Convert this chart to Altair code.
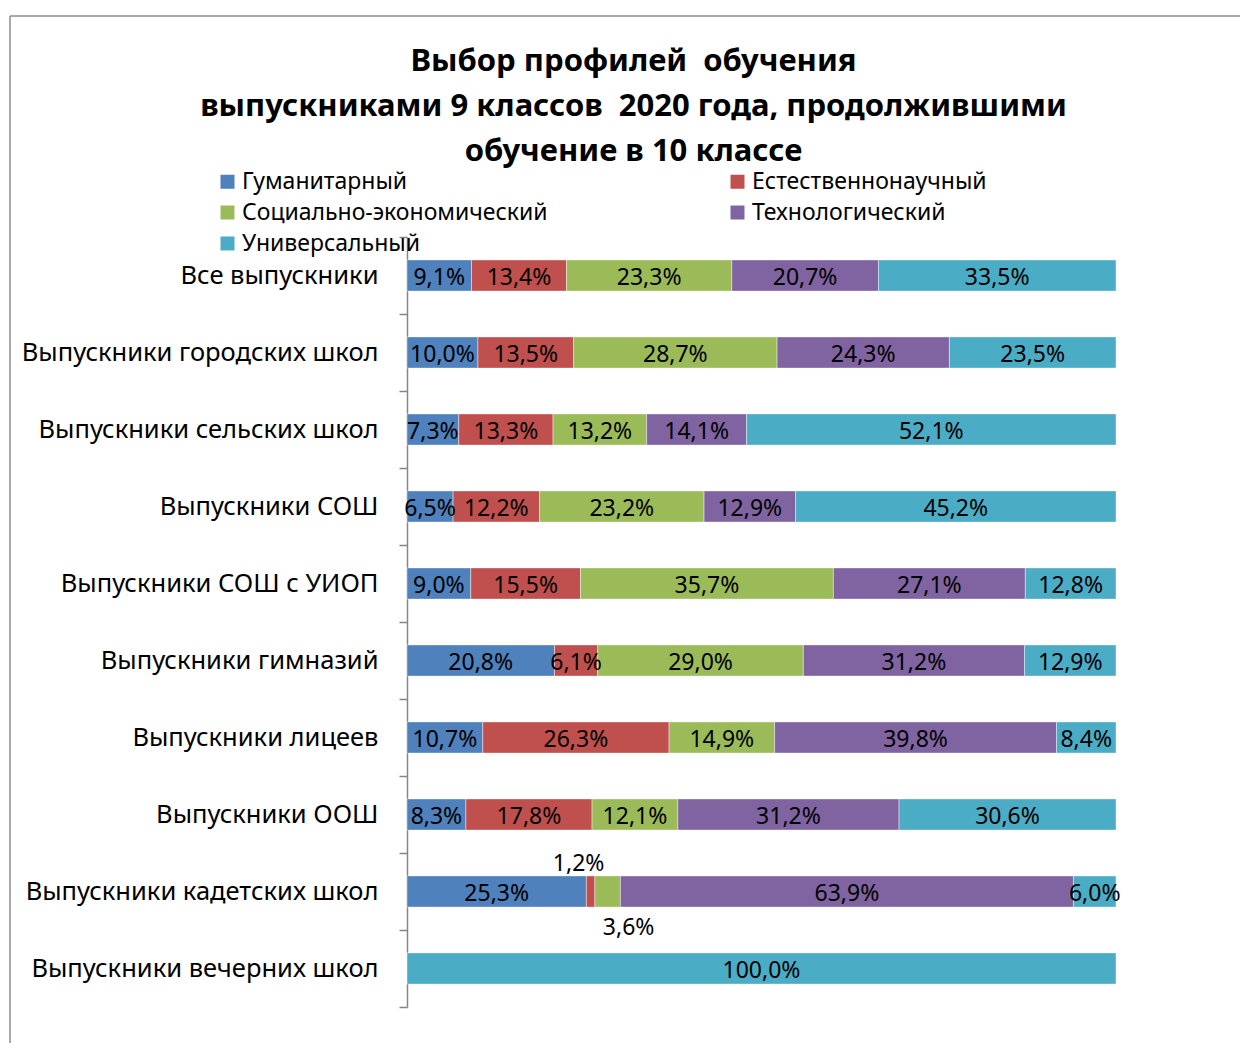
import altair as alt
import pandas as pd

categories = [
    "Все выпускники",
    "Выпускники городских школ",
    "Выпускники сельских школ",
    "Выпускники СОШ",
    "Выпускники СОШ с УИОП",
    "Выпускники гимназий",
    "Выпускники лицеев",
    "Выпускники ООШ",
    "Выпускники кадетских школ",
    "Выпускники вечерних школ",
]
profiles = ["Гуманитарный", "Естественнонаучный", "Социально-экономический",
            "Технологический", "Универсальный"]
colors = ["#4F81BD", "#C0504D", "#9BBB59", "#8064A2", "#4BACC6"]

hum = [9.1, 10.0, 7.3, 6.5, 9.0, 20.8, 10.7, 8.3, 25.3, 0.0]
est = [13.4, 13.5, 13.3, 12.2, 15.5, 6.1, 26.3, 17.8, 1.2, 0.0]
soc = [23.3, 28.7, 13.2, 23.2, 35.7, 29.0, 14.9, 12.1, 3.6, 0.0]
tech = [20.7, 24.3, 14.1, 12.9, 27.1, 31.2, 39.8, 31.2, 63.9, 0.0]
univ = [33.5, 23.5, 52.1, 45.2, 12.8, 12.9, 8.4, 30.6, 6.0, 100.0]

series = [hum, est, soc, tech, univ]
rows = []
for pi, (p, vals) in enumerate(zip(profiles, series)):
    for c, v in zip(categories, vals):
        rows.append({"category": c, "profile": p, "ord": pi, "value": v})
df = pd.DataFrame(rows)

# legend fills column by column: order the domain so the rows read like the original
legend_order = [0, 2, 4, 1, 3]
leg_domain = [profiles[i] for i in legend_order]
leg_range = [colors[i] for i in legend_order]

FONT = "Noto Sans"
title_lines = ["Выбор профилей\u00a0 обучения",
               "выпускниками 9 классов\u00a0 2020 года, продолжившими",
               "обучение в 10 классе"]

base = alt.Chart(df).transform_stack(
    stack="value", groupby=["category"], sort=[alt.SortField("ord", order="ascending")],
    as_=["x0", "x1"], offset="normalize"
).transform_calculate(
    mid="(datum.x0 + datum.x1) / 2",
    label="replace(format(datum.value, '.1f'), '.', ',') + '%'"
)

yscale = alt.Scale(paddingInner=0, paddingOuter=0)
yenc = alt.Y(
    "category:N", sort=categories, scale=yscale,
    axis=alt.Axis(title=None, tickBand="extent", tickSize=8, labelPadding=21,
                  labelFontSize=25.5, labelFont=FONT, labelColor="black",
                  labelLimit=500, domainColor="#868686", tickColor="#868686",
                  domainWidth=1.5, tickWidth=1.5),
)
yplain = alt.Y("category:N", sort=categories, scale=yscale)
xscale = alt.Scale(domain=[0, 1], nice=False, zero=True)

bars = base.mark_bar(stroke="white", strokeWidth=0.6, strokeOpacity=0.7,
                     height=alt.RelativeBandSize(0.405)).encode(
    y=yenc,
    x=alt.X("x0:Q", scale=xscale, axis=None),
    x2="x1:Q",
    color=alt.Color(
        "profile:N",
        scale=alt.Scale(domain=leg_domain, range=leg_range),
        legend=alt.Legend(
            title=None, orient="none", legendX=-191, legendY=-67, columns=2,
            columnPadding=178, rowPadding=7, symbolType="square", symbolSize=196,
            symbolStrokeWidth=0, labelFontSize=23, labelFont=FONT,
            labelColor="black", labelOffset=3, labelLimit=500,
        ),
    ),
)

cadet = "Выпускники кадетских школ"
small_cond = f"datum.category == '{cadet}' && datum.value < 5"

labels = base.transform_filter("datum.value > 0").transform_filter(
    f"!({small_cond})"
).mark_text(font=FONT, fontSize=23, color="black", dy=2).encode(
    y=yplain, x=alt.X("mid:Q", scale=xscale), text="label:N",
)

lab_up = base.transform_filter(f"datum.category == '{cadet}' && datum.value == 1.2").mark_text(
    font=FONT, fontSize=23, color="black", dy=-28, dx=-12
).encode(y=yplain, x=alt.X("mid:Q", scale=xscale), text="label:N")

lab_down = base.transform_filter(f"datum.category == '{cadet}' && datum.value == 3.6").mark_text(
    font=FONT, fontSize=23, color="black", dy=36, dx=21
).encode(y=yplain, x=alt.X("mid:Q", scale=xscale), text="label:N")

frame_df = pd.DataFrame({"k": [0]})
frame_left = alt.Chart(frame_df).mark_rule(color="#8c8c8c", strokeWidth=1.5).encode(
    x=alt.value(-397), y=alt.value(-221), y2=alt.value(900)
)
frame_top = alt.Chart(frame_df).mark_rule(color="#8c8c8c", strokeWidth=1.5).encode(
    x=alt.value(-397), x2=alt.value(900), y=alt.value(-221)
)

chart = alt.layer(frame_left, frame_top, bars, labels, lab_up, lab_down).properties(
    width=709, height=770,
    autosize=alt.AutoSizeParams(type="none"),
    padding={"left": 399, "top": 229, "right": 124, "bottom": 36},
    title=alt.TitleParams(
        text=title_lines, font=FONT, fontSize=31, fontWeight="bold", color="black",
        lineHeight=45, anchor="middle", dx=-128, offset=8, dy=161,
    ),
).configure_view(stroke=None)

chart.save("out.html", embed_options={"renderer": "svg", "actions": False})
